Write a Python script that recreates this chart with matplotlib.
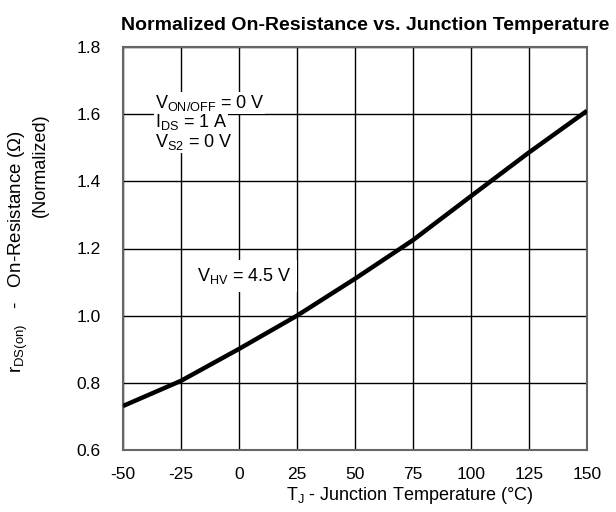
import numpy as np
import matplotlib
matplotlib.use('Agg')
import matplotlib.pyplot as plt

plt.rcParams['font.family'] = ['Liberation Sans', 'DejaVu Sans']
plt.rcParams['mathtext.default'] = 'regular'

# curve
temp_c = [-50, -25, 0, 25, 50, 75, 100, 125, 150]
rds_norm = [0.731, 0.806, 0.901, 1.000, 1.110, 1.225, 1.356, 1.486, 1.610]

x_ticks = [-50, -25, 0, 25, 50, 75, 100, 125, 150]
y_ticks = [0.6, 0.8, 1.0, 1.2, 1.4, 1.6, 1.8]

fig = plt.figure(figsize=(6.16, 5.12), dpi=100)
ax = fig.add_axes([123/616, 1-450/512, 464/616, 403/512])

ax.plot(temp_c, rds_norm, color='k', lw=3.2, solid_capstyle='butt', zorder=3)

ax.set_xlim(-50, 150)
ax.set_ylim(0.6, 1.8)
ax.set_xticks(x_ticks)
ax.set_xticklabels([str(t) for t in x_ticks])
ax.set_yticks(y_ticks)
ax.set_yticklabels(['%.1f' % v for v in y_ticks])
ax.tick_params(axis='x', length=0, labelsize=12.5, pad=12)
ax.tick_params(axis='y', length=0, labelsize=12.5, pad=16)
ax.grid(True, color='k', lw=1.0, zorder=1)
for s in ax.spines.values():
    s.set_color('#666666')
    s.set_linewidth(1.5)

fs = 13
box = dict(facecolor='white', edgecolor='none', pad=0.5)
ax.text(-36.2, 1.618, r'V$_{ON/OFF}$ = 0 V', fontsize=fs, va='baseline', bbox=box, zorder=6)
ax.text(-36.2, 1.562, r'I$_{DS}$ = 1 A', fontsize=fs, va='baseline', bbox=box, zorder=5)
ax.text(-36.2, 1.502, r'V$_{S2}$ = 0 V', fontsize=fs, va='baseline', bbox=box, zorder=4)
ax.text(-18.1, 1.103, r'V$_{HV}$ = 4.5 V', fontsize=fs, va='baseline',
        bbox=dict(facecolor='white', edgecolor='none', pad=4), zorder=4)

fig.text(365/616, 1-26/512, 'Normalized On-Resistance vs. Junction Temperature',
         fontsize=14, fontweight='bold', ha='center', va='center')
fig.text(410/616, 1-495/512, r'T$_J$ - Junction Temperature ($\degree$C)',
         fontsize=13, ha='center', va='center')
fig.text(18/616, 1-252/512, r'r$_{DS(on)}$   -   On-Resistance ($\Omega$)',
         fontsize=13.5, ha='center', va='center', rotation=90)
fig.text(40/616, 1-165/512, '(Normalized)',
         fontsize=13, ha='center', va='center', rotation=90)

plt.savefig('out.png', dpi=100)
